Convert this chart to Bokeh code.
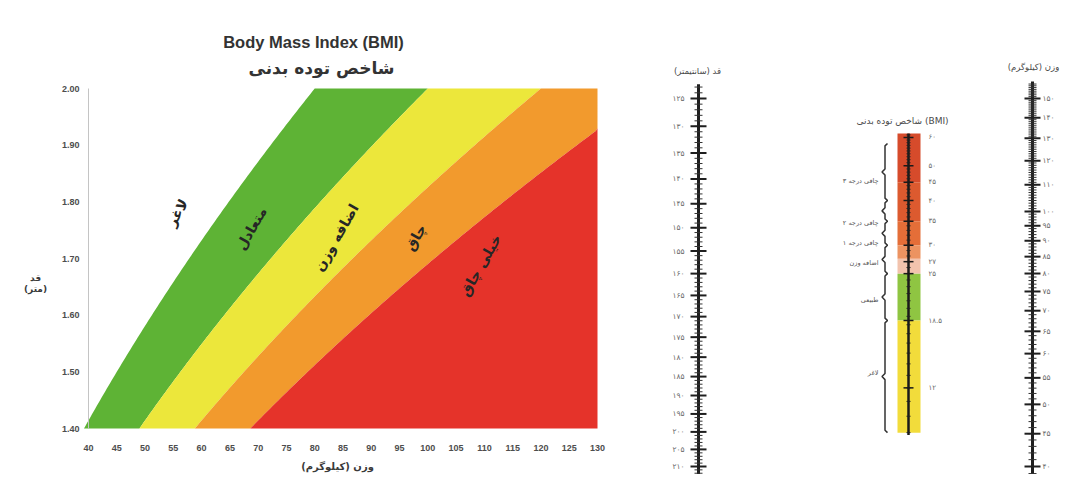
import math
import numpy as np
from bokeh.plotting import figure
from bokeh.models import Range1d, LogScale, LinearScale
from bokeh.core.properties import value
from bokeh.embed import file_html
from bokeh.resources import INLINE

RLM = "\u200f"
FA = str.maketrans("0123456789", "۰۱۲۳۴۵۶۷۸۹")


def fa(v):
    return f"{v:g}".translate(FA)


# ---------------- BMI chart data ----------------
weight_ticks = list(range(40, 131, 5))
height_ticks = [1.40, 1.50, 1.60, 1.70, 1.80, 1.90, 2.00]
bmi_limits = [20, 25, 30, 35]
band_colors = ["#5eb335", "#ece73b", "#f29a2d", "#e5332a"]
zone_names = ["لاغر", "متعادل", "اضافه وزن", "چاق", "خیلی چاق"]
zone_x = [55.7, 68.8, 83.8, 97.8, 109.3]
zone_y = [1.781, 1.753, 1.737, 1.737, 1.688]

# ---------------- nomogram data ----------------
height_cm = list(range(125, 211, 5))
height_minor = list(range(123, 213))
weight_kg = list(range(40, 101, 5)) + [110, 120, 130, 140, 150]
weight_minor = list(range(39, 159))
bmi_marks = [60, 50, 45, 40, 35, 30, 27, 25, 18.5, 12]
bmi_minor = list(range(9, 62))
bmi_classes = ["چاقی درجه ۳", "چاقی درجه ۲", "چاقی درجه ۱", "اضافه وزن", "طبیعی", "لاغر"]
class_bmi = [45.4, 34.6, 30.4, 26.7, 21.1, 13.2]
brace_bounds = [57.7, 40, 35, 30, 25, 18.5, 9.0]
bar_bounds = [61.5, 45, 35, 30, 27.5, 25, 18.5, 9.0]
bar_colors = ["#d64b2b", "#dc5a2f", "#e46e38", "#ec9361", "#f2c3ad", "#8fc542", "#f2dc3b"]

FONT_FA = value("DejaVu Sans")
FONT_EN = value("Liberation Sans")

# ---------------- layout (pixels) ----------------
W, H = 1067, 474
CX0, CX1, CY0, CY1 = 88, 597, 88, 428          # BMI chart plotting area
kx = (130 - 40) / (CX1 - CX0)
ky = (2.00 - 1.40) / (CY1 - CY0)


def log_range(v1, px1, v2, px2):
    k = (px2 - px1) / math.log(v2 / v1)
    f = lambda px: v1 * math.exp((px - px1) / k)
    return Range1d(start=f(H), end=f(0))


p = figure(width=W, height=H,
           x_range=Range1d(40 - CX0 * kx, 130 + (W - CX1) * kx),
           y_range=Range1d(1.40 - (H - CY1) * ky, 2.00 + CY0 * ky),
           output_backend="svg", toolbar_location=None, title_location=None,
           x_axis_location=None, y_axis_location=None, min_border=0)
p.outline_line_color = None
p.grid.grid_line_color = None
p.background_fill_color = "white"
p.border_fill_color = "white"

p.extra_x_ranges = {"nx": Range1d(0, W)}
p.extra_x_scales = {"nx": LinearScale()}
p.extra_y_ranges = {"hy": log_range(125, 98, 210, 466),
                    "wy": log_range(150, 98, 40, 466),
                    "by": log_range(40, 200, 18.5, 320)}
p.extra_y_scales = {"hy": LogScale(), "wy": LogScale(), "by": LogScale()}

# ================= BMI chart =================
h = np.linspace(1.40, 2.00, 121)
edges = [np.minimum(b * h ** 2, 130) for b in bmi_limits] + [np.full_like(h, 130.0)]
for i, c in enumerate(band_colors):
    p.harea(y=h, x1=edges[i], x2=edges[i + 1], fill_color=c, fill_alpha=1.0)

p.text(x=zone_x, y=zone_y, text=zone_names, angle=1.05, text_align="center",
       text_baseline="middle", text_font=FONT_FA, text_font_style="bold",
       text_font_size="14px", text_color="#262626")

# y axis line + tick labels
p.segment(x0=40, x1=40, y0=height_ticks[0], y1=height_ticks[-1], line_color="#c4c4c4", line_width=1)
p.text(x=40 - 9 * kx, y=height_ticks, text=[f"{v:.2f}" for v in height_ticks],
       text_align="right", text_baseline="middle", text_font=FONT_EN, text_font_style="bold",
       text_font_size="9px", text_color="#4d4d4d")
# x tick labels
p.text(x=weight_ticks, y=1.40 - 19 * ky, text=[str(v) for v in weight_ticks],
       text_align="center", text_baseline="middle", text_font=FONT_EN, text_font_style="bold",
       text_font_size="9px", text_color="#4d4d4d")
# axis titles
p.text(x=[40 + (337 - CX0) * kx], y=[1.40 - 38 * ky], text=["وزن (کیلوگرم)" + RLM],
       text_align="center", text_baseline="middle", text_font=FONT_FA, text_font_style="bold",
       text_font_size="10px", text_color="#3a3a3a")
p.text(x=[40 + (35 - CX0) * kx] * 2, y=[1.666, 1.647], text=["قد", "(متر)" + RLM],
       text_align="center", text_baseline="middle", text_font=FONT_FA, text_font_style="bold",
       text_font_size="9px", text_color="#3a3a3a")
# titles
p.text(x=[40 + (313 - CX0) * kx], y=[2.00 + (CY0 - 41) * ky], text=["Body Mass Index (BMI)"],
       text_align="center", text_baseline="middle", text_font=FONT_EN, text_font_style="bold",
       text_font_size="16.5px", text_color="#333333")
p.text(x=[40 + (321 - CX0) * kx], y=[2.00 + (CY0 - 67) * ky], text=["شاخص توده بدنی"],
       text_align="center", text_baseline="middle", text_font=FONT_FA, text_font_style="bold",
       text_font_size="17px", text_color="#333333")

# ================= nomogram =================
AX = "#1f1f1f"
NTXT = dict(text_font=FONT_FA, text_baseline="middle", x_range_name="nx")

# height scale (cm)
HX = 698
hy = dict(x_range_name="nx", y_range_name="hy")
p.segment(x0=HX, x1=HX, y0=122.5, y1=215, line_color=AX, line_width=3, **hy)
p.segment(x0=HX - 4, x1=HX + 4, y0=height_minor, y1=height_minor, line_color="#333333", line_width=1, **hy)
p.segment(x0=HX - 8, x1=HX + 8, y0=height_cm, y1=height_cm, line_color=AX, line_width=2, **hy)
p.text(x=HX - 14, y=height_cm, text=[fa(v) for v in height_cm], text_align="right",
       text_font_size="7.5px", text_color="#6a6a6a", y_range_name="hy", **NTXT)
p.text(x=[HX - 1], y=[120.3], text=["قد (سانتیمتر)" + RLM], text_align="center",
       text_font_size="8.5px", text_color="#4a4a4a", y_range_name="hy", **NTXT)

# weight scale (kg)
WX = 1032
wy = dict(x_range_name="nx", y_range_name="wy")
p.segment(x0=WX, x1=WX, y0=159.5, y1=37, line_color=AX, line_width=3, **wy)
p.segment(x0=WX - 4, x1=WX + 4, y0=weight_minor, y1=weight_minor, line_color="#333333", line_width=1, **wy)
p.segment(x0=WX - 8, x1=WX + 8, y0=weight_kg, y1=weight_kg, line_color=AX, line_width=2, **wy)
p.text(x=WX + 10, y=weight_kg, text=[fa(v) for v in weight_kg], text_align="left",
       text_font_size="7.5px", text_color="#6a6a6a", y_range_name="wy", **NTXT)
p.text(x=[WX + 1], y=[168.0], text=["وزن (کیلوگرم)" + RLM], text_align="center",
       text_font_size="8.5px", text_color="#4a4a4a", y_range_name="wy", **NTXT)

# BMI scale
BX = 908
by = dict(x_range_name="nx", y_range_name="by")
p.quad(left=BX - 11, right=BX + 12, top=bar_bounds[:-1], bottom=bar_bounds[1:],
       fill_color=bar_colors, line_color=None, **by)
p.segment(x0=BX, x1=BX, y0=bar_bounds[-1] * 0.985, y1=bar_bounds[0], line_color="#1a1a1a", line_width=2.5, **by)
p.segment(x0=BX - 2, x1=BX + 2, y0=bmi_minor, y1=bmi_minor, line_color="#222222", line_width=1, **by)
p.segment(x0=BX - 5, x1=BX + 5, y0=bmi_marks, y1=bmi_marks, line_color="#1a1a1a", line_width=1.5, **by)
p.text(x=BX + 20, y=bmi_marks, text=[fa(v) for v in bmi_marks], text_align="left",
       text_font_size="7px", text_color="#6a6a6a", y_range_name="by", **NTXT)
p.text(x=BX - 30, y=class_bmi, text=bmi_classes, text_align="right",
       text_font_size="6.5px", text_color="#555555", y_range_name="by", **NTXT)

bx, bys = [], []
for top, bot in zip(brace_bounds[:-1], brace_bounds[1:]):
    mid = (top * bot) ** 0.5
    bx += [BX - 21, BX - 23.5, BX - 23.5, BX - 26.5, BX - 23.5, BX - 23.5, BX - 21]
    bys += [top, top * 0.985, mid * 1.02, mid, mid / 1.02, bot / 0.985, bot]
p.line(x=bx, y=bys, line_color="#333333", line_width=1.5, **by)
p.text(x=[BX - 6], y=[66.8], text=["شاخص توده بدنی (BMI)"], text_align="center",
       text_font_size="9px", text_color="#4a4a4a", y_range_name="by", **NTXT)

open("out.html", "w").write(file_html(p, INLINE))
